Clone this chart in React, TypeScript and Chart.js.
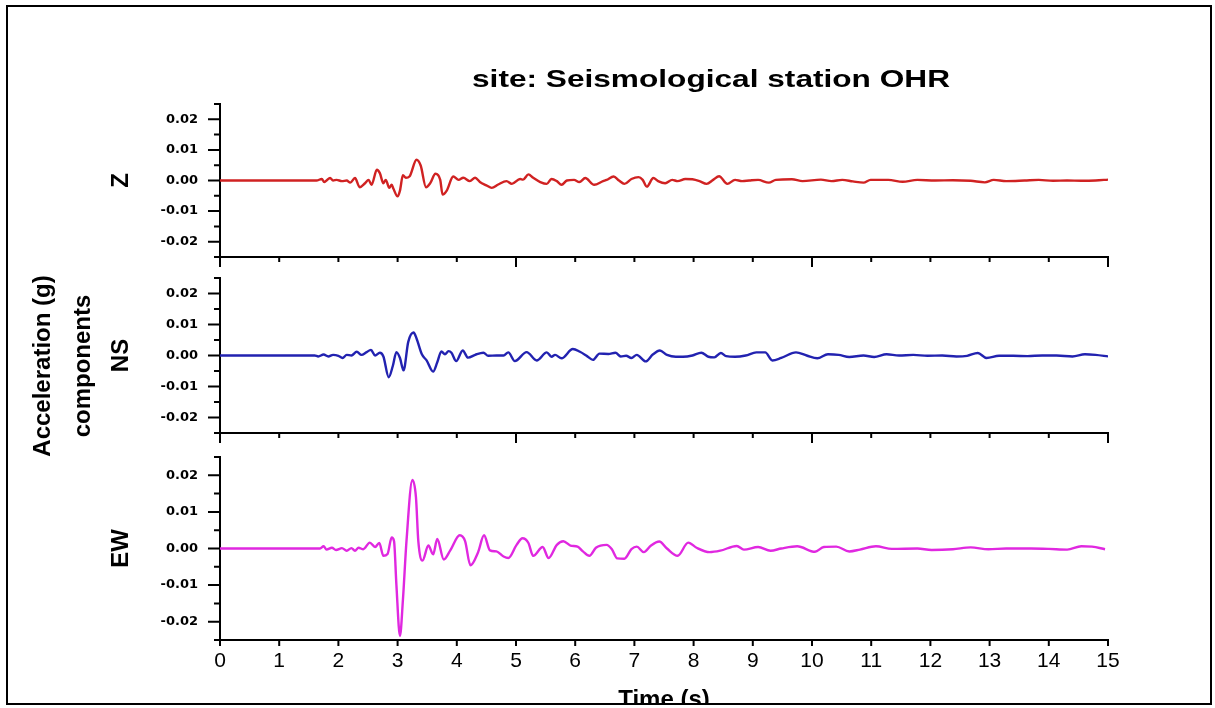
import React, { useEffect, useRef } from 'react';
import { Chart, registerables } from 'chart.js';

Chart.register(...registerables);

// ---------- text ----------
const TITLE = 'site: Seismological station OHR';
const Y_TITLE_LINES = ['Acceleration (g)', 'components'];
const X_TITLE = 'Time (s)';
const PANEL_NAMES = ['Z', 'NS', 'EW'];

// ---------- ticks ----------
const xTickValues = [0, 1, 2, 3, 4, 5, 6, 7, 8, 9, 10, 11, 12, 13, 14, 15];
const xMajorTicks = [0, 5, 10, 15];
const yTickValues = [-0.02, -0.01, 0, 0.01, 0.02];
const yMinorTicks = [-0.025, -0.015, -0.005, 0.005, 0.015, 0.025];

// ---------- data: Z component ----------
const zTime = [
  0, 1.63, 1.72, 1.76, 1.8, 1.86, 1.91, 1.97, 2.06, 2.14, 2.2, 2.28, 2.36, 2.45, 2.51, 2.56,
  2.65, 2.7, 2.76, 2.8, 2.86, 2.9, 2.93, 3.0, 3.04, 3.09, 3.14, 3.2, 3.32, 3.39, 3.48, 3.55,
  3.64, 3.72, 3.76, 3.83, 3.94, 4.03, 4.11, 4.22, 4.31, 4.39, 4.5, 4.59, 4.7, 4.84, 4.93, 5.07,
  5.12, 5.21, 5.29, 5.41, 5.52, 5.6, 5.69, 5.77, 5.86, 5.98, 6.07, 6.17, 6.32, 6.47, 6.53, 6.65,
  6.74, 6.83, 6.95, 7.07, 7.14, 7.21, 7.32, 7.4, 7.52, 7.64, 7.73, 7.86, 7.98, 8.1, 8.22, 8.33,
  8.43, 8.57, 8.7, 8.82, 8.94, 9.09, 9.27, 9.39, 9.66, 9.84, 10.15, 10.33, 10.51, 10.69, 10.87,
  10.99, 11.29, 11.53, 11.78, 12.08, 12.38, 12.68, 12.92, 13.07, 13.28, 13.59, 13.83, 14.07,
  14.31, 14.55, 14.79, 15.0,
];
const zAcc = [
  0, 0, 0.0005, -0.0005, 0, 0.0008, 0, 0.0002, -0.0002, 0, -0.0007, 0.0008, -0.0022, -0.0009, 0.0002, -0.0014,
  0.0035, 0.0024, -0.0009, 0.0002, -0.0024, -0.0014, -0.0027, -0.0052, -0.0033, 0.0017, 0.0009, 0.0013, 0.0068, 0.0049, -0.0022, -0.0009,
  0.0022, 0.0002, -0.0046, -0.0033, 0.0013, 0.0002, 0.0009, -0.0002, 0.0009, -0.0005, -0.0016, -0.0024, -0.0013, -0.0002, -0.0011, 0.0005,
  0.0003, 0.002, 0.0009, -0.0005, -0.0011, 0.0005, -0.0002, -0.0014, 0, 0.0002, -0.0005, 0.0008, -0.0014, -0.0002, 0.0002, 0.0013,
  0, -0.0011, 0.0005, 0.0011, 0.0002, -0.002, 0.0008, -0.0002, -0.0009, 0.0002, -0.0002, 0.0005, 0.0004, -0.0002, -0.0011, 0.0002,
  0.0014, -0.0011, 0.0002, -0.0002, 0, 0.0002, -0.0007, 0.0002, 0.0004, -0.0002, 0.0003, -0.0002, 0.0002, -0.0003, -0.0007,
  0.0002, 0.0002, -0.0004, 0.0002, 0, 0.0001, -0.0001, -0.0006, 0.0002, -0.0002, 0, 0.0002, -0.0001,
  0, -0.0001, 0, 0.0003,
];

// ---------- data: NS component ----------
const nsTime = [
  0, 1.6, 1.66, 1.75, 1.83, 1.91, 2.0, 2.07, 2.14, 2.22, 2.31, 2.39, 2.47, 2.55, 2.62, 2.7,
  2.76, 2.85, 2.92, 2.98, 3.04, 3.1, 3.18, 3.27, 3.32, 3.41, 3.49, 3.6, 3.67, 3.74, 3.8, 3.86,
  3.91, 3.99, 4.1, 4.19, 4.31, 4.45, 4.53, 4.67, 4.79, 4.87, 4.98, 5.18, 5.35, 5.52, 5.6, 5.66,
  5.77, 5.96, 6.08, 6.2, 6.3, 6.41, 6.56, 6.68, 6.77, 6.86, 6.95, 7.04, 7.19, 7.31, 7.43, 7.55,
  7.7, 7.82, 7.98, 8.13, 8.25, 8.35, 8.46, 8.55, 8.7, 8.88, 9.06, 9.21, 9.33, 9.48, 9.73, 9.91,
  10.09, 10.27, 10.45, 10.63, 10.87, 11.05, 11.26, 11.47, 11.71, 11.95, 12.2, 12.44, 12.62, 12.8,
  12.95, 13.16, 13.4, 13.64, 13.89, 14.13, 14.4, 14.61, 14.79, 15.0,
];
const nsAcc = [
  0, 0, -0.0003, 0.0003, -0.0003, 0.0002, -0.0001, -0.0008, 0.0002, 0, 0.0012, 0.0002, 0.001, 0.0018, 0, 0.0009,
  -0.0003, -0.007, -0.0033, 0.0011, -0.0008, -0.0048, 0.0044, 0.0074, 0.0055, 0.0004, -0.0016, -0.0052, -0.0022, 0.0013, 0.0004, 0.0014,
  0.0009, -0.0018, 0.0016, -0.0007, 0.0002, 0.0009, -0.0001, 0, 0, 0.001, -0.0018, 0.0011, -0.0016, 0.001, -0.0004, 0.0002,
  -0.0009, 0.0021, 0.0012, -0.0002, -0.0014, 0.0006, 0.0005, 0.0009, -0.0003, -0.0001, -0.0008, 0.0002, -0.0019, 0.0003, 0.0016, 0.0002,
  -0.0004, -0.0004, 0, 0.0009, -0.0004, -0.0006, 0.0008, -0.0002, -0.0004, 0, 0.001, 0.001, -0.0016, -0.0008, 0.001, 0,
  -0.0009, 0.0004, 0.0002, -0.0005, 0, -0.0005, 0.0004, 0, 0.0002, -0.0001, 0, -0.0003, -0.0001, 0.0008,
  -0.0008, -0.0001, -0.0001, -0.0002, 0, 0, -0.0003, 0.0004, 0.0002, -0.0003,
];

// ---------- data: EW component ----------
const ewTime = [
  0, 1.69, 1.75, 1.8, 1.89, 1.96, 2.06, 2.14, 2.22, 2.28, 2.34, 2.42, 2.53, 2.62, 2.69, 2.76,
  2.83, 2.9, 2.94, 2.98, 3.04, 3.09, 3.15, 3.25, 3.31, 3.35, 3.42, 3.52, 3.6, 3.67, 3.78, 3.89,
  4.05, 4.14, 4.23, 4.36, 4.46, 4.56, 4.67, 4.79, 4.87, 5.01, 5.11, 5.21, 5.29, 5.45, 5.55, 5.69,
  5.8, 5.92, 6.04, 6.13, 6.24, 6.35, 6.53, 6.62, 6.71, 6.83, 6.95, 7.04, 7.16, 7.28, 7.42, 7.55,
  7.73, 7.91, 8.05, 8.27, 8.45, 8.73, 8.85, 9.09, 9.3, 9.48, 9.75, 10.05, 10.2, 10.41, 10.63, 10.81,
  11.08, 11.35, 11.78, 12.02, 12.38, 12.68, 12.98, 13.28, 13.7, 14.0, 14.31, 14.55, 14.73, 14.95,
];
const ewAcc = [
  0, 0, 0.0006, -0.0003, 0.0002, -0.0004, 0.0001, -0.0006, 0.0001, -0.0006, 0.0002, -0.0002, 0.0016, 0.0004, 0.0015, -0.002,
  -0.0015, 0.003, 0.002, -0.01, -0.0239, -0.014, 0.002, 0.0187, 0.014, 0.002, -0.0033, 0.0008, -0.0016, 0.0026, -0.003, -0.0005,
  0.0036, 0.002, -0.0046, -0.001, 0.0036, -0.0005, -0.0008, -0.0022, -0.0026, 0.001, 0.0028, 0.0015, -0.002, 0.0004, -0.0026, 0.001,
  0.002, 0.0008, 0.0005, -0.0008, -0.002, 0.0002, 0.001, -0.0002, -0.0027, -0.0028, -0.0002, 0.0005, -0.001, 0.0008, 0.0019, 0,
  -0.002, 0.0016, 0.0002, -0.001, -0.0006, 0.0007, -0.0003, 0.0004, -0.0006, 0, 0.0006, -0.0009, 0.0004, 0.0005, -0.0008, -0.0003,
  0.0006, -0.0001, 0, -0.0004, -0.0002, 0.0003, -0.0002, 0, 0, -0.0001, -0.0003, 0.0006, 0.0005, -0.0002,
];

// ---------- layout / style ----------
const W = 1215;
const H = 708;
const Y_AXIS_W = 60;
const AREAS = [
  { left: 220, right: 1108, top: 104, bottom: 257, xH: 10 },
  { left: 220, right: 1108, top: 278, bottom: 433, xH: 10 },
  { left: 220, right: 1108, top: 457, bottom: 640, xH: 40 },
];
const COLORS = ['#d02222', '#2222b0', '#e028e0'];

const tickMarks = {
  id: 'tickMarks',
  afterDraw(chart: any, _args: any, opts: any) {
    const { ctx, chartArea, scales } = chart;
    ctx.save();
    ctx.strokeStyle = '#000';
    ctx.lineWidth = 2;
    ctx.beginPath();
    for (const v of yTickValues) {
      const p = scales.y.getPixelForValue(v);
      ctx.moveTo(chartArea.left - 12, p);
      ctx.lineTo(chartArea.left, p);
    }
    for (const v of yMinorTicks) {
      const p = scales.y.getPixelForValue(v);
      ctx.moveTo(chartArea.left - 6, p);
      ctx.lineTo(chartArea.left, p);
    }
    for (const t of xTickValues) {
      const px = scales.x.getPixelForValue(t);
      const len = opts.labeled ? 6 : xMajorTicks.includes(t) ? 10 : 5;
      ctx.moveTo(px, chartArea.bottom);
      ctx.lineTo(px, chartArea.bottom + len);
    }
    ctx.stroke();
    ctx.restore();
  },
};

function vText(ctx: CanvasRenderingContext2D, text: string, x: number, y: number) {
  ctx.save();
  ctx.translate(x, y);
  ctx.rotate(-Math.PI / 2);
  ctx.fillText(text, 0, 0);
  ctx.restore();
}

const decor = {
  id: 'decor',
  afterDraw(chart: any) {
    const ctx: CanvasRenderingContext2D = chart.ctx;
    ctx.save();
    ctx.fillStyle = '#000';
    ctx.textAlign = 'center';
    ctx.textBaseline = 'alphabetic';
    // title
    ctx.font = 'bold 24px "Liberation Sans", Arial, sans-serif';
    const tw = ctx.measureText(TITLE).width;
    ctx.save();
    ctx.translate(711, 87);
    ctx.scale(478 / tw, 1);
    ctx.fillText(TITLE, 0, 0);
    ctx.restore();
    // y titles
    ctx.font = 'bold 24px "Liberation Sans", Arial, sans-serif';
    vText(ctx, Y_TITLE_LINES[0], 50, 366);
    vText(ctx, Y_TITLE_LINES[1], 90, 366);
    AREAS.forEach((a, i) => {
      vText(ctx, PANEL_NAMES[i], 128, (a.top + a.bottom) / 2);
    });
    // x title (cut by frame)
    ctx.save();
    ctx.beginPath();
    ctx.rect(0, 0, W, 703);
    ctx.clip();
    ctx.fillText(X_TITLE, 664, 707);
    ctx.restore();
    // frame
    ctx.strokeStyle = '#000';
    ctx.lineWidth = 2;
    ctx.strokeRect(7, 6, 1204, 698);
    ctx.restore();
  },
};

function panelConfig(i: number, times: number[], values: number[]): any {
  const a = AREAS[i];
  const labeled = i === 2;
  const data = times.map((t, k) => ({ x: t, y: values[k] }));
  return {
    type: 'line',
    data: {
      datasets: [
        {
          label: PANEL_NAMES[i],
          data,
          borderColor: COLORS[i],
          borderWidth: 2.4,
          pointRadius: 0,
          fill: false,
          cubicInterpolationMode: 'monotone',
        },
      ],
    },
    options: {
      responsive: false,
      animation: false,
      devicePixelRatio: 1,
      events: [],
      layout: {
        autoPadding: false,
        padding: {
          left: a.left - Y_AXIS_W,
          right: W - a.right,
          top: a.top,
          bottom: H - a.bottom - a.xH,
        },
      },
      plugins: {
        legend: { display: false },
        tooltip: { enabled: false },
        title: { display: false },
        tickMarks: { labeled },
      },
      scales: {
        x: {
          type: 'linear',
          position: 'bottom',
          min: 0,
          max: 15,
          grid: { display: false, drawTicks: false },
          border: { display: true, color: '#000', width: 2 },
          afterBuildTicks: (s: any) => {
            s.ticks = xTickValues.map((v) => ({ value: v }));
          },
          ticks: {
            display: labeled,
            autoSkip: false,
            maxRotation: 0,
            padding: 9,
            color: '#000',
            font: { family: '"Liberation Sans Narrow", "Arial Narrow", "Liberation Sans", sans-serif', size: 21 },
            callback: (v: any) => String(v),
          },
          afterFit: (s: any) => {
            s.height = a.xH;
            s.paddingLeft = 0;
            s.paddingRight = 0;
          },
        },
        y: {
          type: 'linear',
          min: -0.025,
          max: 0.025,
          grid: { display: false, drawTicks: false },
          border: { display: true, color: '#000', width: 2 },
          afterBuildTicks: (s: any) => {
            s.ticks = yTickValues.map((v) => ({ value: v }));
          },
          ticks: {
            padding: 22,
            color: '#000',
            font: { family: '"DejaVu Sans", sans-serif', size: 13, weight: 'bold' },
            callback: (v: any) => Number(v).toFixed(2).replace('-0.00', '0.00'),
          },
          afterFit: (s: any) => {
            s.width = Y_AXIS_W;
            s.paddingTop = 0;
            s.paddingBottom = 0;
          },
        },
      },
    },
    plugins: labeled ? [tickMarks, decor] : [tickMarks],
  };
}

const canvasStyle: React.CSSProperties = {
  position: 'absolute',
  left: 0,
  top: 0,
  width: W,
  height: H,
};

export default function App() {
  const zRef = useRef<HTMLCanvasElement>(null);
  const nsRef = useRef<HTMLCanvasElement>(null);
  const ewRef = useRef<HTMLCanvasElement>(null);

  useEffect(() => {
    const charts = [
      new Chart(zRef.current!, panelConfig(0, zTime, zAcc)),
      new Chart(nsRef.current!, panelConfig(1, nsTime, nsAcc)),
      new Chart(ewRef.current!, panelConfig(2, ewTime, ewAcc)),
    ];
    return () => charts.forEach((c) => c.destroy());
  }, []);

  return (
    <div style={{ position: 'absolute', left: 0, top: 0, width: W, height: H, background: '#fff', overflow: 'hidden' }}>
      <canvas ref={zRef} width={W} height={H} style={canvasStyle} />
      <canvas ref={nsRef} width={W} height={H} style={canvasStyle} />
      <canvas ref={ewRef} width={W} height={H} style={canvasStyle} />
    </div>
  );
}
